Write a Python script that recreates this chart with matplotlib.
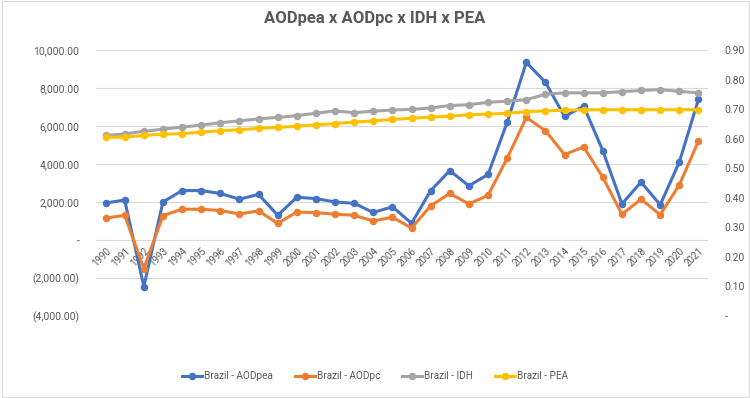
import matplotlib
matplotlib.use("Agg")
import matplotlib.pyplot as plt
from matplotlib.ticker import FuncFormatter, FixedLocator
from matplotlib.patches import Rectangle

years = list(range(1990, 2022))
aodpea = [1950, 2100, -2450, 2000, 2600, 2600, 2450, 2150, 2400, 1300,
          2250, 2180, 2000, 1930, 1450, 1750, 880, 2600, 3650, 2850,
          3450, 6200, 9350, 8300, 6500, 7050, 4700, 1900, 3050, 1850,
          4100, 7400]
aodpc = [1150, 1300, -1500, 1280, 1620, 1620, 1550, 1370, 1530, 880,
         1470, 1440, 1360, 1300, 1000, 1200, 630, 1800, 2450, 1900,
         2350, 4300, 6450, 5750, 4500, 4900, 3300, 1350, 2150, 1330,
         2900, 5200]
idh = [0.611, 0.616, 0.625, 0.632, 0.639, 0.646, 0.654, 0.660, 0.667, 0.672,
       0.678, 0.686, 0.694, 0.688, 0.693, 0.697, 0.699, 0.704, 0.712, 0.715,
       0.723, 0.727, 0.732, 0.750, 0.755, 0.755, 0.755, 0.759, 0.763, 0.766,
       0.760, 0.755]
pea = [0.605, 0.605, 0.611, 0.615, 0.617, 0.622, 0.627, 0.630, 0.635, 0.638,
       0.642, 0.647, 0.651, 0.656, 0.660, 0.665, 0.669, 0.673, 0.676, 0.681,
       0.683, 0.686, 0.691, 0.694, 0.696, 0.698, 0.698, 0.698, 0.698, 0.698,
       0.698, 0.698]
series_names = ["Brazil - AODpea", "Brazil - AODpc", "Brazil - IDH", "Brazil - PEA"]
colors = ["#4472C4", "#ED7D31", "#A5A5A5", "#FFC000"]

plt.rcParams['font.family'] = ['Roboto', 'DejaVu Sans']
txt = "#595959"

fig = plt.figure(figsize=(7.5, 3.98), dpi=100)
ax = fig.add_axes([96/750, 1-316/398, 612/750, 266/398])
ax2 = ax.twinx()

x = list(range(len(years)))
kw = dict(linewidth=2.2, marker='o', markersize=4.4)
l1, = ax.plot(x, aodpea, color=colors[0], label=series_names[0], **kw)
l2, = ax.plot(x, aodpc, color=colors[1], label=series_names[1], **kw)
l3, = ax2.plot(x, idh, color=colors[2], label=series_names[2], **kw)
l4, = ax2.plot(x, pea, color=colors[3], label=series_names[3], **kw)

ax.set_xlim(-0.5, len(years) - 0.5)
ax.set_ylim(-4000, 10000)
ax2.set_ylim(0, 0.9)
ax.yaxis.set_major_locator(FixedLocator(list(range(-4000, 10001, 2000))))
ax2.yaxis.set_major_locator(FixedLocator([i / 10 for i in range(0, 10)]))

def lfmt(v, p):
    if abs(v) < 1e-9:
        return "-"
    if v < 0:
        return "({:,.2f})".format(-v)
    return "{:,.2f}".format(v)

def rfmt(v, p):
    if abs(v) < 1e-9:
        return "-"
    return "{:.2f}".format(v)

ax.yaxis.set_major_formatter(FuncFormatter(lfmt))
ax2.yaxis.set_major_formatter(FuncFormatter(rfmt))

ax.grid(axis='y', color='#D9D9D9', linewidth=0.8)
ax.set_axisbelow(True)
for a in (ax, ax2):
    for s in a.spines.values():
        s.set_visible(False)
ax.spines['bottom'].set_position(('data', 0))
ax.set_xticks(x)
ax.set_xticklabels([str(y) for y in years], rotation=45, ha='right',
                   rotation_mode='anchor', fontsize=7, color=txt)
ax.tick_params(axis='x', length=0, pad=4)
ax.tick_params(axis='y', length=0, labelsize=7.5, labelcolor=txt, pad=12)
ax2.tick_params(axis='y', length=0, labelsize=7.5, labelcolor=txt, pad=12)

fig.text(0.5, 1 - 18/398, "AODpea x AODpc x IDH x PEA", ha='center', va='center',
         fontsize=12, fontweight='bold', color=txt)

fig.legend(handles=[l1, l2, l3, l4], loc='center', bbox_to_anchor=(0.5, 1 - 376/398),
           ncol=4, frameon=False, fontsize=7.2, handlelength=2.0, columnspacing=2.2,
           handletextpad=0.2, labelcolor=txt)

fig.patches.append(Rectangle((0.002, 0.003), 0.996, 0.994, transform=fig.transFigure,
                             fill=False, edgecolor='#D9D9D9', linewidth=0.8))

fig.savefig("out.png", dpi=100)
